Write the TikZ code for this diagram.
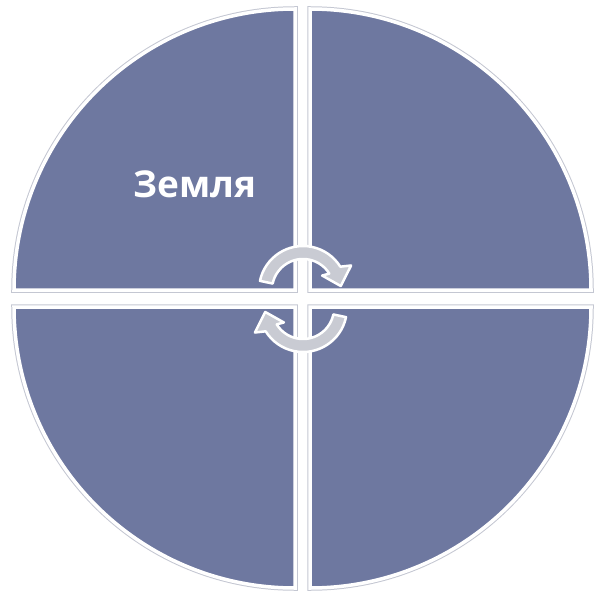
\documentclass[tikz,border=0pt]{standalone}
\usepackage{fontspec}
\setsansfont{Open Sans}
\usepackage{tikz}
\usetikzlibrary{calc}
\definecolor{quadFill}{HTML}{6E78A0}
\definecolor{quadEdge}{HTML}{C4C7D2}
\definecolor{arrFill}{HTML}{C9CBD3}

\begin{document}
\begin{tikzpicture}[x=1pt, y=1pt, font=\sffamily\bfseries]
  \useasboundingbox (0,0) rectangle (596,590);
  % four quarters, pulled apart by a white gap
  \foreach \cx/\cy/\a in {295/300/90, 310/300/0, 295/283/180, 310/283/270} {
    \draw[quadEdge, line width=5.5pt]
      (\cx,\cy) -- ++(\a:281) arc[start angle=\a, delta angle=90, radius=281] -- cycle;
    \filldraw[fill=quadFill, draw=white, line width=3.5pt]
      (\cx,\cy) -- ++(\a:281) arc[start angle=\a, delta angle=90, radius=281] -- cycle;
  }
  \node[text=white, font=\sffamily\bfseries\fontsize{37}{44}\selectfont] (earth) at (195,406) {Земля};
  % turning arrows in the middle
  \foreach \rot in {0,180} {
    \begin{scope}[rotate around={\rot:(303,291)}]
      \filldraw[fill=arrFill, draw=white, line width=2.5pt, line join=round]
        ($(303,300)+(168:31)$) -- ($(303,300)+(168:44)$)
        arc[start angle=168, end angle=32, radius=44]
        -- ($(303,300)+(27:54)$) -- ($(303,300)+(6:38)$) -- ($(303,300)+(37:24)$)
        -- ($(303,300)+(32:31)$)
        arc[start angle=32, end angle=168, radius=31] -- cycle;
    \end{scope}
  }
\end{tikzpicture}
\end{document}
